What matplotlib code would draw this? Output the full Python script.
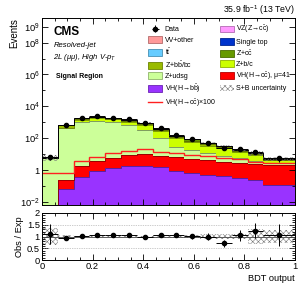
import numpy as np
import matplotlib
matplotlib.use('Agg')
import matplotlib.pyplot as plt
from matplotlib.patches import Patch
from matplotlib.lines import Line2D
import matplotlib.ticker as mticker
from matplotlib.colors import to_rgb

plt.rcParams['font.family'] = ['Liberation Sans', 'DejaVu Sans']
plt.rcParams['mathtext.fontset'] = 'custom'
plt.rcParams['mathtext.rm'] = 'Liberation Sans'
plt.rcParams['mathtext.it'] = 'Liberation Sans:italic'
plt.rcParams['mathtext.bf'] = 'Liberation Sans:bold'
plt.rcParams['hatch.linewidth'] = 0.4

# ---------------- data ----------------
bin_edges = [0, 0.0625, 0.125, 0.1875, 0.25, 0.3125, 0.375, 0.4375, 0.5,
             0.5625, 0.625, 0.6875, 0.75, 0.8125, 0.875, 1.0]
data = [6.8, 650, 1780, 2400, 1960, 1550, 955, 420, 155, 87, 49, 24, 20, 14.7, 5.4]

vh_bb = [0.003, 0.062, 0.38, 0.83, 1.27, 1.7, 1.86, 1.47, 0.85, 0.63, 0.5, 0.42, 0.34, 0.23, 0.11]
vh_cc = [0.0, 0.19, 1.32, 2.67, 4.9, 7.0, 9.1, 6.3, 6.15, 4.5, 3.6, 3.0, 2.36, 2.17, 1.94]
z_udsg = [5.9, 419, 1098, 1296, 994, 641, 309, 102, 23, 13.5, 8.5, 4.4, 2.7, 1.4, 0.95]
z_bc = [0.06, 20, 396, 540, 510, 462, 381, 165, 70, 40, 22, 15.7, 8.2, 4.7, 1.1]
z_bb = [0.02, 220, 132, 180, 170, 154, 127, 55, 23, 13.5, 7.2, 5.2, 2.7, 1.6, 0.4]
z_cc = [0.02, 20, 132, 180, 170, 154, 127, 55, 23, 13.5, 7.2, 5.2, 2.7, 1.6, 0.4]
ttbar = [0.05, 4, 10, 12, 9, 6, 3, 1, 0.3, 0.15, 0.1, 0.05, 0.03, 0.02, 0.01]
vv_other = [0.03, 2, 5, 6, 5, 3.5, 2, 0.8, 0.3, 0.2, 0.12, 0.08, 0.05, 0.04, 0.03]
single_top = [0.005, 0.3, 0.8, 0.8, 0.6, 0.4, 0.2, 0.08, 0.03, 0.02, 0.01, 0.005, 0.003, 0.002, 0.001]
vz_cc = [0.01, 0.2, 0.6, 1.0, 1.2, 1.2, 1.0, 0.6, 0.4, 0.25, 0.18, 0.12, 0.1, 0.08, 0.06]
vh_cc_x100 = [0.71, 0.71, 3.5, 6.8, 12.7, 16, 20.5, 14.7, 12, 9.3, 7.5, 6.2, 4.9, 3.4, 3.0]
unc_rel = [0.38, 0.05, 0.04, 0.04, 0.04, 0.04, 0.04, 0.05, 0.06, 0.08, 0.1, 0.1, 0.12, 0.33, 0.28]

# ---------------- figure ----------------
edges = np.array(bin_edges)
centers = 0.5 * (edges[1:] + edges[:-1])
halfw = 0.5 * (edges[1:] - edges[:-1])
data_a = np.array(data)

fig = plt.figure(figsize=(3.07, 2.95), dpi=100)
ax = fig.add_axes([42/307, 1-205/295, 253/307, 187/295])
rax = fig.add_axes([42/307, 1-260/295, 253/307, 47/295])

def dark(c, f=0.55):
    r, g, b = to_rgb(c)
    return (r*f, g*f, b*f)

L_BB = r'VH(H→b$\bar{\mathrm{b}}$)'
L_CC = r'VH(H→c$\bar{\mathrm{c}}$), μ=41'
L_VZ = r'VZ(Z→c$\bar{\mathrm{c}}$)'
L_ST = 'Single top'
L_VV = 'VV+other'
L_TT = r't$\bar{\mathrm{t}}$'
L_UD = 'Z+udsg'
L_BC = 'Z+b/c'
L_ZBB = r'Z+b$\bar{\mathrm{b}}$/bc'
L_ZCC = r'Z+c$\bar{\mathrm{c}}$'

stack = [
    (vh_bb, '#9933ff', L_BB),
    (vh_cc, '#ff0000', L_CC),
    (z_udsg, '#ccff99', L_UD),
    (z_bc, '#ccff00', L_BC),
    (z_bb, '#99bb00', L_ZBB),
    (z_cc, '#669900', L_ZCC),
    (ttbar, '#66ccff', L_TT),
    (vv_other, '#ff9999', L_VV),
    (single_top, '#0033cc', L_ST),
    (vz_cc, '#ff99ff', L_VZ),
]

base = np.full(len(data), 1e-6)
handles = {}
for vals, col, lab in stack:
    top = base + np.array(vals)
    ax.stairs(top, edges, baseline=base, fill=True, facecolor=col, lw=0)
    ax.stairs(top, edges, baseline=None, color=dark(col), lw=0.6)
    handles[lab] = Patch(facecolor=col, edgecolor=dark(col, 0.7), lw=0.6)
    base = top
total = base
ax.stairs(total, edges, baseline=None, color='black', lw=0.7)

unc = np.array(unc_rel)
ax.stairs(total*(1+unc), edges, baseline=total*(1-unc), fill=True,
          facecolor='none', edgecolor='#777777', hatch='xxxxxx', lw=0)

ax.stairs(vh_cc_x100, edges, baseline=None, color='#ff2020', lw=1.0)

eb = ax.errorbar(centers, data_a, yerr=np.sqrt(data_a), xerr=halfw, fmt='o',
                 color='black', ms=3, elinewidth=0.7, capsize=0)

ax.set_yscale('log')
ax.set_ylim(6.5e-3, 3.5e9)
ax.set_xlim(0, 1)
ax.yaxis.set_major_locator(mticker.FixedLocator([1e-2, 1, 1e2, 1e4, 1e6, 1e8, 1e9]))
ax.yaxis.set_major_formatter(mticker.FixedFormatter(
    [r'10$^{-2}$', '1', r'10$^{2}$', r'10$^{4}$', r'10$^{6}$', r'10$^{8}$', r'10$^{9}$']))
ax.yaxis.set_minor_locator(mticker.FixedLocator([10.0**k for k in range(-2, 10)]))
ax.yaxis.set_minor_formatter(mticker.NullFormatter())
ax.xaxis.set_major_locator(mticker.MultipleLocator(0.2))
ax.xaxis.set_minor_locator(mticker.MultipleLocator(0.05))
ax.tick_params(labelbottom=False)
for a in (ax, rax):
    a.tick_params(which='both', direction='in', top=True, right=True, labelsize=6.7, pad=1.5)
    a.tick_params(which='major', length=4, width=0.6)
    a.tick_params(which='minor', length=2.2, width=0.6)
    for s in a.spines.values():
        s.set_linewidth(0.7)

ax.set_ylabel('Events', fontsize=7, loc='top', labelpad=1)

# legend
leg_handles = [eb, handles[L_VV], handles[L_TT], handles[L_ZBB], handles[L_UD],
               handles[L_BB], Line2D([], [], color='#ff2020', lw=1.0),
               handles[L_VZ], handles[L_ST], handles[L_ZCC], handles[L_BC],
               handles[L_CC],
               Patch(facecolor='white', edgecolor='#777777', hatch='xxxxxx', lw=0)]
leg_labels = ['Data', L_VV, L_TT, L_ZBB, L_UD, L_BB, r'VH(H→c$\bar{\mathrm{c}}$)×100',
              L_VZ, L_ST, L_ZCC, L_BC, L_CC, 'S+B uncertainty']
ax.legend(leg_handles, leg_labels, ncol=2, loc='upper left',
          bbox_to_anchor=(0.415, 0.975), frameon=False, fontsize=5,
          handlelength=2.0, handleheight=1.1, handletextpad=0.35,
          labelspacing=0.38, columnspacing=0.6, borderpad=0.2, borderaxespad=0)

# texts
ax.text(0.045, 0.925, 'CMS', transform=ax.transAxes, fontsize=8.5, fontweight='bold', va='center')
ax.text(0.045, 0.855, 'Resolved-jet', transform=ax.transAxes, fontsize=5.5, style='italic', va='center')
ax.text(0.045, 0.79, r'2L (μμ), High V-$p_{T}$', transform=ax.transAxes, fontsize=5.5, style='italic', va='center')
ax.text(0.055, 0.685, 'Signal Region', transform=ax.transAxes, fontsize=5, fontweight='bold', va='center')
fig.text(295/307, 1-10/295, r'35.9 fb$^{-1}$ (13 TeV)', fontsize=6.3, ha='right', va='center')

# ratio
rax.stairs(1+unc, edges, baseline=1-unc, fill=True, facecolor='none',
           edgecolor='#777777', hatch='xxxxxx', lw=0)
rax.axhline(1, color='#444444', lw=0.6)
for yv in (0.5, 1.5):
    rax.axhline(yv, color='#999999', lw=0.5, ls=(0, (1, 1.5)))
ratio = data_a / total
rerr = np.sqrt(data_a) / total
rax.errorbar(centers, ratio, yerr=rerr, xerr=halfw, fmt='o', color='black',
             ms=3, elinewidth=0.7, capsize=0)
rax.set_xlim(0, 1)
rax.set_ylim(0, 2)
rax.xaxis.set_major_locator(mticker.MultipleLocator(0.2))
rax.xaxis.set_minor_locator(mticker.MultipleLocator(0.05))
rax.yaxis.set_major_locator(mticker.MultipleLocator(0.5))
rax.yaxis.set_minor_locator(mticker.MultipleLocator(0.1))
rax.xaxis.set_major_formatter(mticker.FuncFormatter(lambda v, p: '%g' % v))
rax.yaxis.set_major_formatter(mticker.FuncFormatter(lambda v, p: '%g' % v))
rax.set_xlabel('BDT output', fontsize=6.7, loc='right', labelpad=2)
rax.set_ylabel('Obs / Exp', fontsize=6.7, labelpad=2)

fig.savefig('out.png', dpi=100)
